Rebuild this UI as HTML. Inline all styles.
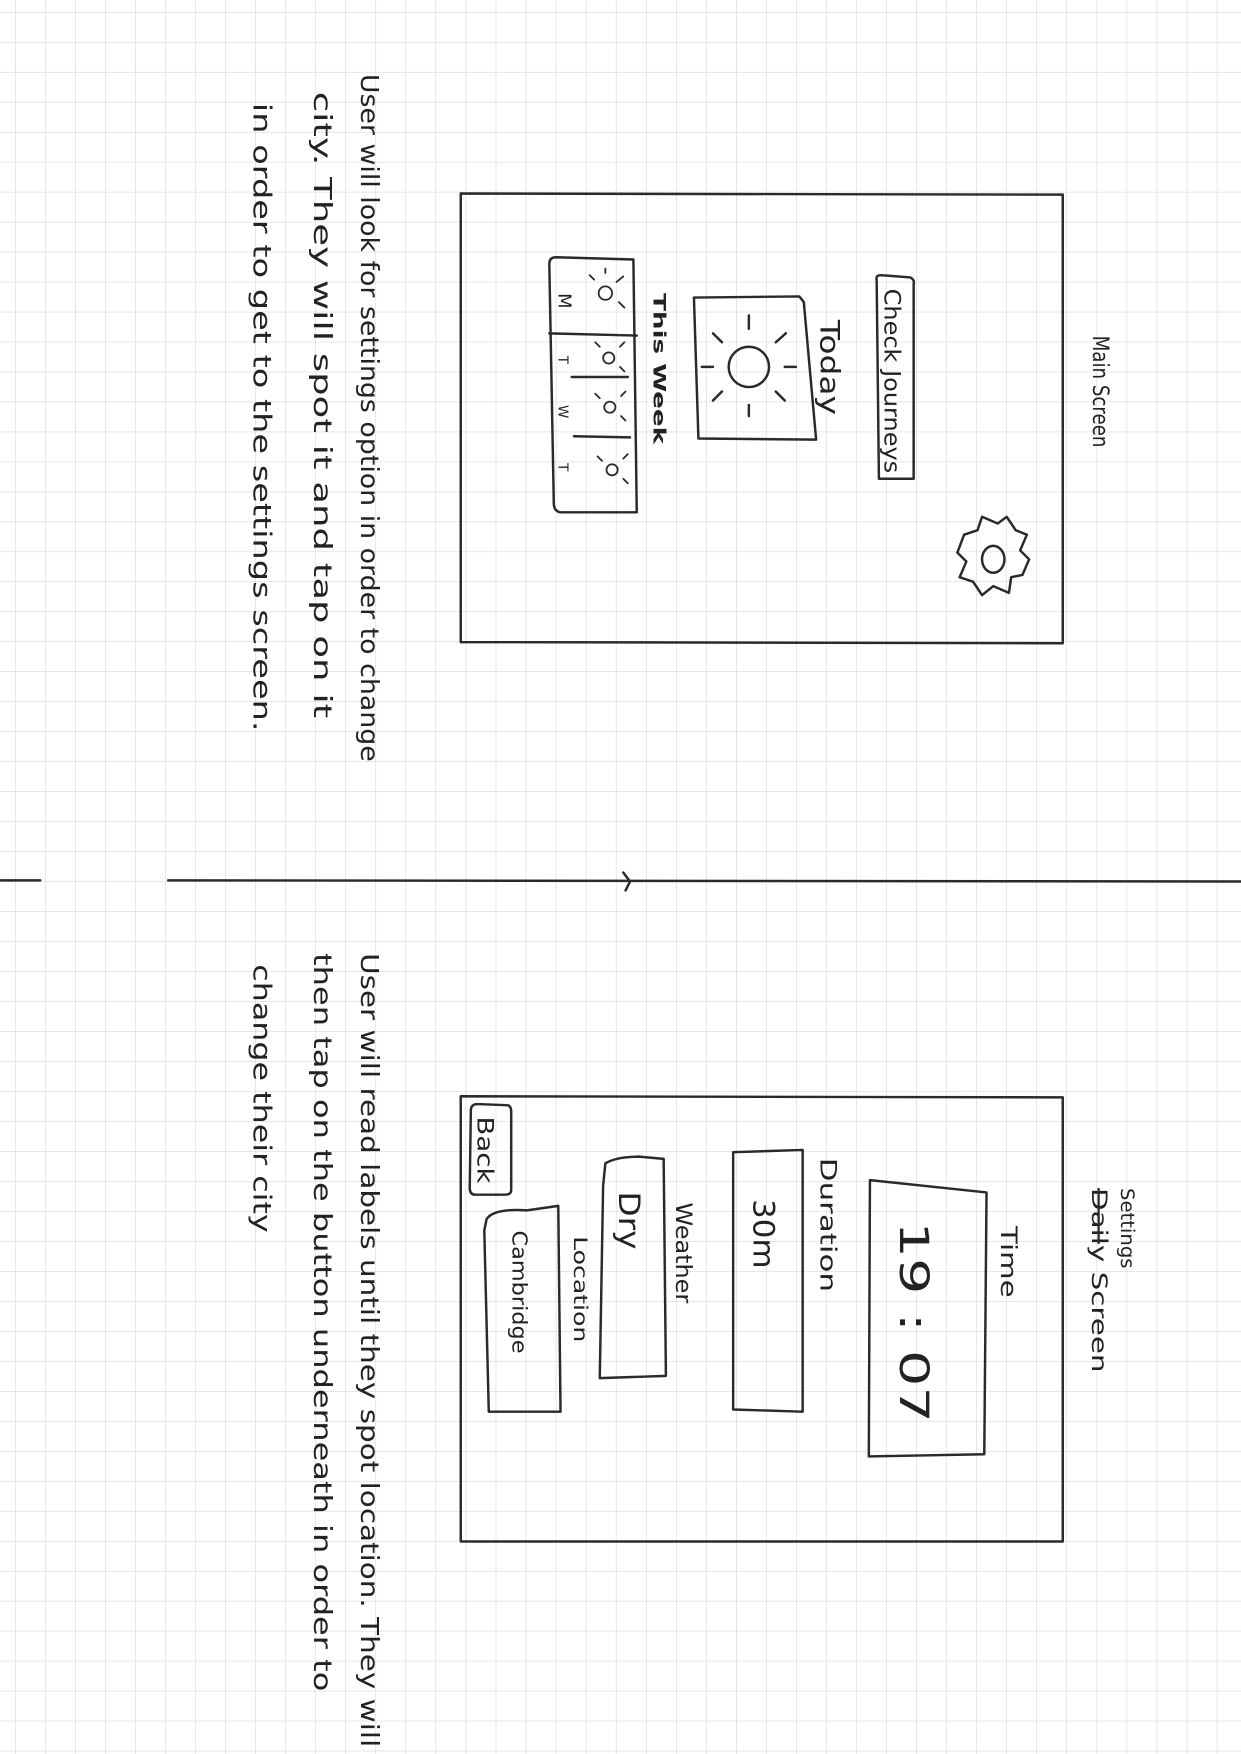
<!DOCTYPE html>
<html><head><meta charset="utf-8"><style>
html,body{margin:0;padding:0;background:#fff}
svg{display:block}
text{font-family:"DejaVu Sans","Liberation Sans",sans-serif;fill:#222}
</style></head><body>
<svg width="1241" height="1754" viewBox="0 0 1107 1568" preserveAspectRatio="none" xmlns="http://www.w3.org/2000/svg">
<defs>
<pattern id="g" x="13.4" y="10.7" width="26.8" height="26.8" patternUnits="userSpaceOnUse">
<path d="M0 0H26.8M0 0V26.8" stroke="#cfcfcf" stroke-width="0.9" fill="none"/>
</pattern>
</defs>
<rect width="1107" height="1568" fill="#fff"/>
<rect width="1107" height="1568" fill="url(#g)"/>
<g stroke="#2a2a2a" stroke-width="2.2" fill="none" stroke-linecap="round" stroke-linejoin="round">
<path d="M0 787H36M150 787L1107 788"/>
<path d="M556 780l6 8l-4 8"/>
<path d="M411 173L948 174L948 575L411 574Z"/>
<path d="M782 250Q781 246 786 246L812 248Q816 250 815 254L815 428L784 428Z"/>
<path d="M619 266L713 265L717 270L728 393L623 392Z"/>
<circle cx="668" cy="328" r="18"/>
<path d="M668 294l0 -12M692 306l9 -8M700 328l10 0M692 350l8 8M668 362l0 10M644 350l-8 8M636 328l-10 0M644 306l-8 -8"/>
<path d="M490 236Q490 230 496 230L565 232L568 458L500 458Q494 457 494 450Z"/>
<path d="M490 298L568 300M510 337L560 337M512 390L562 391"/>
<g stroke-width="1.6">
<circle cx="540" cy="262" r="6"/><circle cx="543" cy="320" r="5"/><circle cx="544" cy="364" r="5"/><circle cx="546" cy="420" r="5"/>
<path d="M550 252l6-5M552 270l5 5M530 250l-4-4M540 244v-4"/>
<path d="M553 310l4-4M553 328l4 4M535 310l-4-4"/>
<path d="M554 354l4-4M554 372l4 4M535 356l-4-4"/>
<path d="M556 410l4-4M556 428l4 4M537 412l-4-4"/>
</g>
<path d="M860 478L872 474L876 462L890 468L898 462L906 474L916 478L910 492L918 500L912 514L902 516L900 530L886 524L876 532L868 520L856 516L862 502L854 494Z"/>
<ellipse cx="886" cy="500" rx="10" ry="12"/>
<path d="M411 980L948 981L948 1378L411 1378Z"/>
<path d="M776 1055L880 1066L878 1300L775 1302Z"/>
<path d="M654 1030L716 1028L716 1262L654 1260Z"/>
<path d="M540 1040Q550 1034 570 1034L592 1036L594 1230L535 1232L538 1060Z"/>
<path d="M434 1090Q440 1080 470 1082L498 1078L500 1262L436 1262L432 1100Z"/>
<path d="M420 993Q420 987 426 987L452 988Q456 988 456 994L456 1064Q456 1068 450 1068L424 1068Q419 1068 419 1062Z"/>
</g>
<g font-size="20">
<text transform="translate(975,300) rotate(90)" textLength="100" lengthAdjust="spacingAndGlyphs">Main Screen</text>
<text transform="translate(789,258) rotate(90)" textLength="165" lengthAdjust="spacingAndGlyphs">Check Journeys</text>
<text transform="translate(732,286) rotate(90)" font-size="24" textLength="85" lengthAdjust="spacingAndGlyphs">Today</text>
<text transform="translate(583,262) rotate(90)" font-size="15" font-weight="bold" textLength="135" lengthAdjust="spacingAndGlyphs">This Week</text>
<text transform="translate(498,262) rotate(90)" font-size="16">M</text>
<text transform="translate(498,318) rotate(90)" font-size="12">T</text>
<text transform="translate(498,362) rotate(90)" font-size="12">W</text>
<text transform="translate(498,414) rotate(90)" font-size="12">T</text>
<text transform="translate(1000,1062) rotate(90)" font-size="17" textLength="72" lengthAdjust="spacingAndGlyphs">Settings</text>
<text transform="translate(974,1062) rotate(90)" font-size="19" textLength="165" lengthAdjust="spacingAndGlyphs">Daily Screen</text>
<path d="M980 1062V1112" stroke="#2a2a2a" stroke-width="2"/>
<text transform="translate(893,1096) rotate(90)" textLength="64" lengthAdjust="spacingAndGlyphs">Time</text>
<text transform="translate(803,1092) rotate(90)" font-size="36" textLength="180" lengthAdjust="spacingAndGlyphs">19 : 07</text>
<text transform="translate(732,1035) rotate(90)" textLength="120" lengthAdjust="spacingAndGlyphs">Duration</text>
<text transform="translate(672,1072) rotate(90)" font-size="26" textLength="62" lengthAdjust="spacingAndGlyphs">30m</text>
<text transform="translate(603,1075) rotate(90)" textLength="90" lengthAdjust="spacingAndGlyphs">Weather</text>
<text transform="translate(552,1065) rotate(90)" font-size="26" textLength="52" lengthAdjust="spacingAndGlyphs">Dry</text>
<text transform="translate(512,1105) rotate(90)" font-size="17" textLength="95" lengthAdjust="spacingAndGlyphs">Location</text>
<text transform="translate(457,1100) rotate(90)" font-size="18" textLength="110" lengthAdjust="spacingAndGlyphs">Cambridge</text>
<text transform="translate(426,998) rotate(90)" font-size="20" textLength="60" lengthAdjust="spacingAndGlyphs">Back</text>
<text transform="translate(322,66) rotate(90)" font-size="22" textLength="615" lengthAdjust="spacingAndGlyphs">User will look for settings option in order to change</text>
<text transform="translate(280,82) rotate(90)" font-size="22" textLength="560" lengthAdjust="spacingAndGlyphs">city.  They will  spot it and tap on it</text>
<text transform="translate(226,92) rotate(90)" font-size="22" textLength="562" lengthAdjust="spacingAndGlyphs">in order  to get  to the settings  screen.</text>
<text transform="translate(322,852) rotate(90)" font-size="22" textLength="710" lengthAdjust="spacingAndGlyphs">User will read labels until they spot location. They will</text>
<text transform="translate(280,852) rotate(90)" font-size="22" textLength="660" lengthAdjust="spacingAndGlyphs">then tap on the button underneath in order to</text>
<text transform="translate(226,862) rotate(90)" font-size="22" textLength="240" lengthAdjust="spacingAndGlyphs">change their city</text>
</g>
</svg>
</body></html>
